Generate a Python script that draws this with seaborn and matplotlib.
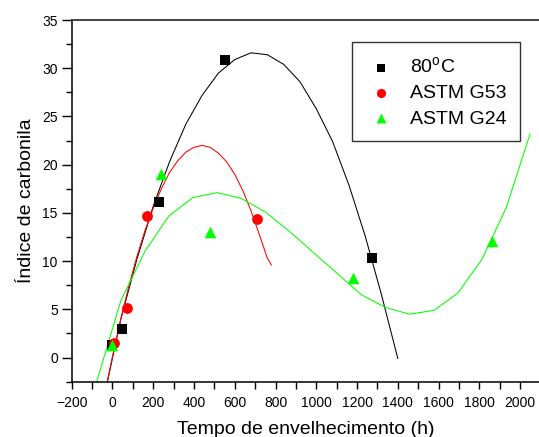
import numpy as np
import pandas as pd
import matplotlib
matplotlib.use("Agg")
import matplotlib.pyplot as plt
from matplotlib.ticker import MultipleLocator
import seaborn as sns

# measured points (aging time in h, carbonyl index)
t_80c = [0, 49, 228, 552, 1272]
ic_80c = [1.3, 3.0, 16.1, 30.9, 10.3]
t_g53 = [8, 70, 168, 710]
ic_g53 = [1.5, 5.1, 14.7, 14.4]
t_g24 = [0, 240, 480, 1178, 1862]
ic_g24 = [1.3, 19.0, 13.0, 8.3, 12.1]

# fitted curves, vertices
fit_80c_t = [-40, 40, 120, 200, 280, 360, 440, 520, 600, 680, 760, 840,
             920, 1000, 1080, 1160, 1240, 1320, 1400]
fit_80c_y = [-4.0, 3.9, 10.2, 15.7, 20.3, 24.2, 27.2, 29.5, 30.9, 31.6, 31.4,
             30.4, 28.6, 25.8, 22.4, 17.9, 12.6, 6.5, -0.1]
fit_g53_t = [-40, 0, 40, 80, 120, 160, 200, 240, 280, 320, 360, 400, 440,
             480, 520, 560, 600, 640, 680, 720, 760, 780]
fit_g53_y = [-4.0, 0.1, 3.9, 7.4, 10.5, 13.2, 15.5, 17.5, 19.2, 20.4, 21.3,
             21.8, 22.0, 21.8, 21.2, 20.3, 19.0, 17.3, 15.2, 12.8, 10.3, 9.6]
fit_g24_t = [-80, 41, 159, 277, 395, 513, 632, 750, 868, 986, 1104, 1222,
             1340, 1458, 1577, 1695, 1813, 1931, 2049]
fit_g24_y = [-2.7, 5.9, 11.0, 14.7, 16.6, 17.1, 16.5, 15.1, 13.1, 10.9, 8.7,
             6.5, 5.2, 4.5, 4.9, 6.7, 10.2, 15.5, 23.2]

labels = ['80$^{\\mathrm{o}}$C', 'ASTM G53', 'ASTM G24']
colors = ['black', '#ff0000', '#00ff00']

sns.set_style("ticks")
plt.rcParams['font.family'] = ['Liberation Sans', 'DejaVu Sans']
plt.rcParams['mathtext.fontset'] = 'custom'
plt.rcParams['mathtext.rm'] = 'Liberation Sans'
plt.rcParams['text.color'] = 'black'
plt.rcParams['axes.labelcolor'] = 'black'
plt.rcParams['xtick.color'] = 'black'
plt.rcParams['ytick.color'] = 'black'

fig = plt.figure(figsize=(5.39, 4.37), dpi=100)
ax = fig.add_axes([0.1330, 0.1265, 0.8698, 0.8277])

fits = [(fit_80c_t, fit_80c_y), (fit_g53_t, fit_g53_y), (fit_g24_t, fit_g24_y)]
for (ft, fy), c in zip(fits, colors):
    sns.lineplot(x=ft, y=fy, sort=False, estimator=None, color=c, lw=0.75, ax=ax)

pts = [(t_80c, ic_80c, 's', 50), (t_g53, ic_g53, 'o', 60), (t_g24, ic_g24, '^', 70)]
for (tx, ty, m, s), c, lab in zip(pts, colors, labels):
    sns.scatterplot(x=tx, y=ty, marker=m, s=s, color=c, linewidth=0, label=lab,
                    ax=ax, zorder=3)

ax.set_xlim(-200, 2100)
ax.set_ylim(-2.5, 35)
ax.xaxis.set_major_locator(MultipleLocator(200))
ax.xaxis.set_minor_locator(MultipleLocator(100))
ax.yaxis.set_major_locator(MultipleLocator(5))
ax.yaxis.set_minor_locator(MultipleLocator(2.5))
ax.tick_params(axis='both', which='both', direction='out', color='black',
               labelcolor='black', labelsize=10, width=1)
ax.tick_params(axis='x', which='major', length=5, pad=5)
ax.tick_params(axis='x', which='minor', length=5)
ax.tick_params(axis='y', which='major', length=7, pad=3)
ax.tick_params(axis='y', which='minor', length=4)
for side in ['left', 'bottom']:
    ax.spines[side].set_color('black')
    ax.spines[side].set_linewidth(1.1)
ax.spines['top'].set_color('#444444')
ax.spines['top'].set_linewidth(1.4)
ax.spines['right'].set_visible(False)

ax.set_xlabel('Tempo de envelhecimento (h)', fontsize=14, labelpad=8, color='black')
ax.set_ylabel('Índice de carbonila', fontsize=14, labelpad=5, color='black')

leg = ax.legend(loc='upper left', bbox_to_anchor=(0.597, 0.938), borderaxespad=0,
                fontsize=14, frameon=True, fancybox=False, edgecolor='black',
                handlelength=1.6, handletextpad=0.7, labelspacing=0.4,
                borderpad=0.7, markerscale=0.85)
leg.get_frame().set_linewidth(1.0)
for txt in leg.get_texts():
    txt.set_color('black')

fig.savefig('out.png', dpi=100)
